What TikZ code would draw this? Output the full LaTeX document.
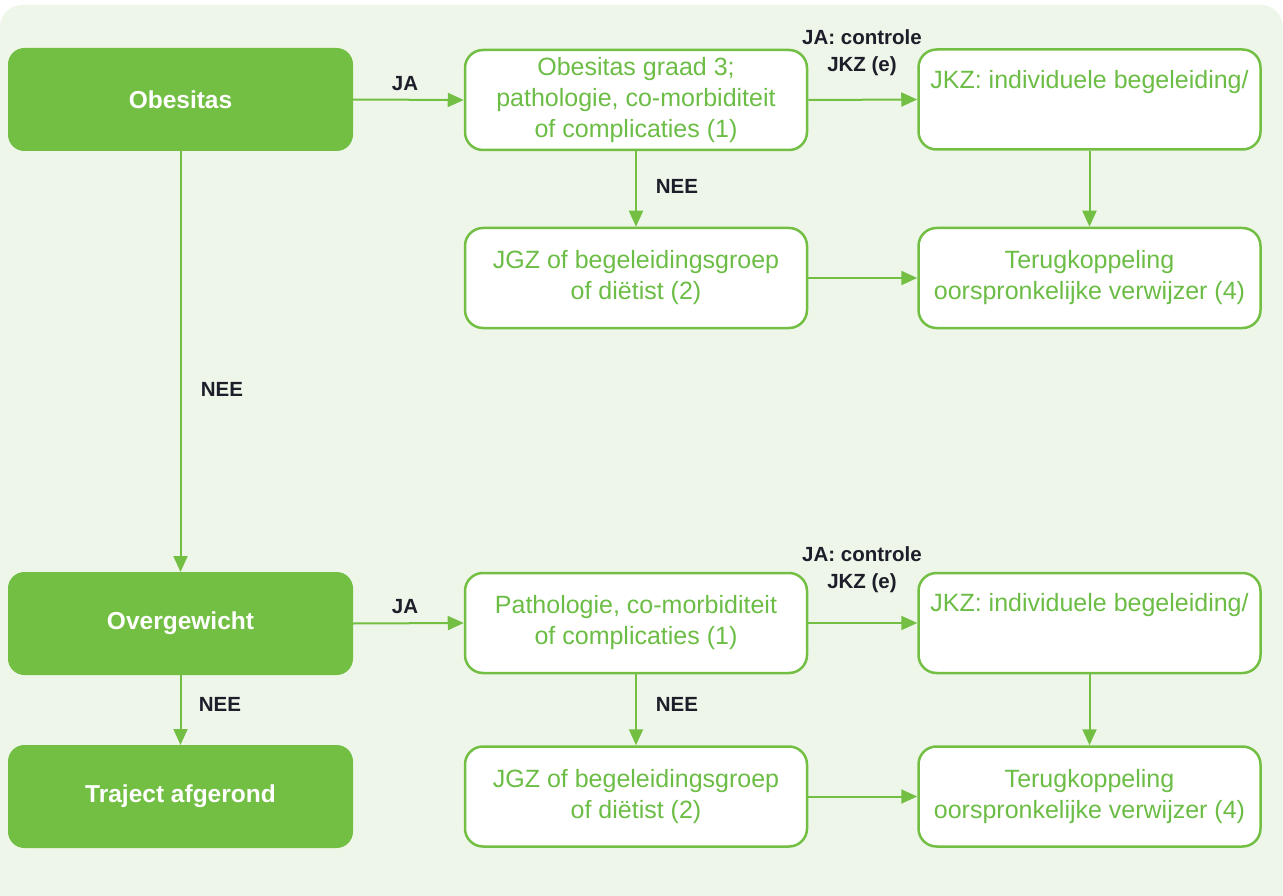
\documentclass[tikz,border=0pt]{standalone}
\usepackage{fontspec}
\setmainfont{Liberation Sans}
\usetikzlibrary{arrows.meta}
\definecolor{gfill}{HTML}{72BF44}
\definecolor{gtext}{HTML}{6CBD45}
\definecolor{bgc}{HTML}{EEF6E9}
\definecolor{lbl}{HTML}{1E1E2A}
\tikzset{
  darkbox/.style={fill=gfill, draw=gfill, line width=1pt, rounded corners=16pt, minimum width=344pt, minimum height=102pt, inner sep=0pt, text=white, font=\fontsize{24.5}{28}\selectfont\bfseries, align=center},
  whitebox/.style={fill=white, draw=gfill, line width=2.5pt, rounded corners=18pt, minimum width=342pt, minimum height=100pt, inner sep=0pt, text=gtext, font=\fontsize{25}{31}\selectfont, align=center},
  conn/.style={draw=gfill, line width=2pt, -{Triangle[length=16pt, width=14pt]}},
  lab/.style={text=lbl, font=\fontsize{20.5}{27}\selectfont\bfseries, align=center, inner sep=0pt}
}
\begin{document}
\begin{tikzpicture}[x=1pt,y=-1pt]
\useasboundingbox (0,0) rectangle (1283,896);
\begin{scope}
\clip (0,0) rectangle (1283,896);
\fill[bgc, rounded corners=22pt] (0,930) -- (0,5) -- (1283,5) -- (1283,930) -- cycle;
\end{scope}
% left column
\node[darkbox] (obes) at (180.5,99.5) {Obesitas};
\node[darkbox] (over) at (180.5,623.5) {Overgewicht};
\node[darkbox] (traj) at (180.5,796.5) {Traject afgerond};
% middle column
\node[whitebox] (a1) at (636,100) {Obesitas graad 3;\\pathologie, co-morbiditeit\\of complicaties (1)};
\node[whitebox] (jgz1) at (636,278) {JGZ of begeleidingsgroep\\of diëtist (2)};
\node[whitebox] (a2) at (636,623) {Pathologie, co-morbiditeit\\of complicaties (1)};
\node[whitebox] (jgz2) at (636,796.5) {JGZ of begeleidingsgroep\\of diëtist (2)};
% right column
\node[whitebox] (jkz1) at (1089.5,99.5) {JKZ: individuele begeleiding/\\\strut};
\node[whitebox] (ter1) at (1089.5,278) {Terugkoppeling\\oorspronkelijke verwijzer (4)};
\node[whitebox] (jkz2) at (1089.5,623) {JKZ: individuele begeleiding/\\\strut};
\node[whitebox] (ter2) at (1089.5,796.5) {Terugkoppeling\\oorspronkelijke verwijzer (4)};
% connectors
\draw[conn] (obes.east) -- (a1.west);
\draw[conn] (a1.east) -- (jkz1.west);
\draw[conn] (a1.south) -- (jgz1.north);
\draw[conn] (jkz1.south) -- (ter1.north);
\draw[conn] (jgz1.east) -- (ter1.west);
\draw[conn] (obes.south) -- (over.north);
\draw[conn] (over.east) -- (a2.west);
\draw[conn] (a2.east) -- (jkz2.west);
\draw[conn] (a2.south) -- (jgz2.north);
\draw[conn] (jkz2.south) -- (ter2.north);
\draw[conn] (jgz2.east) -- (ter2.west);
\draw[conn] (over.south) -- (traj.north);
% labels
\node[lab] (l1) at (405,84) {JA};
\node[lab] (l2) at (862,53) {JA: controle\\JKZ (e)};
\node[lab] (l3) at (677,186) {NEE};
\node[lab] (l4) at (222,389) {NEE};
\node[lab] (l5) at (405,607) {JA};
\node[lab] (l6) at (862,570) {JA: controle\\JKZ (e)};
\node[lab] (l7) at (677,704) {NEE};
\node[lab] (l8) at (220,704) {NEE};
\end{tikzpicture}
\end{document}
